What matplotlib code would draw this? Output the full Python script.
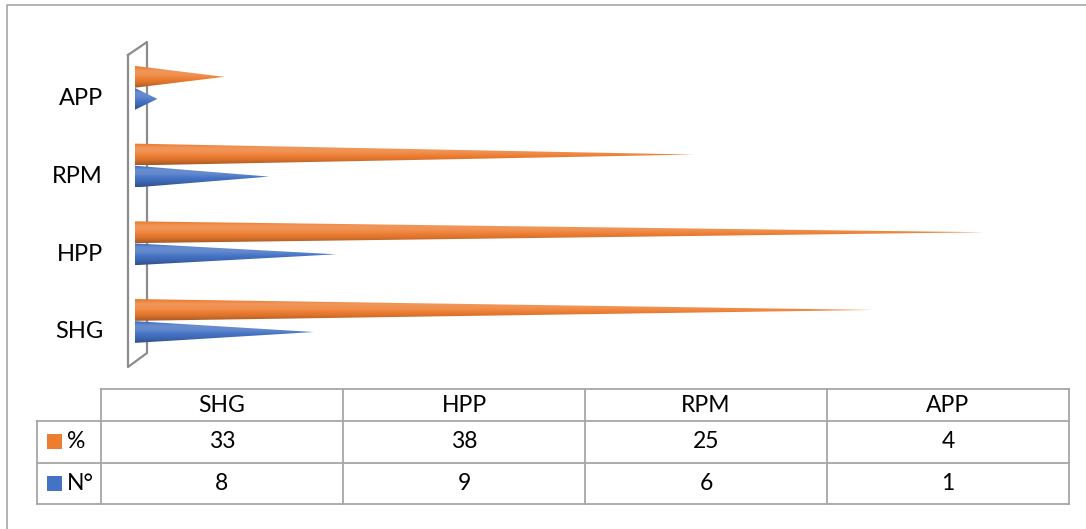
import numpy as np
import matplotlib.pyplot as plt
import matplotlib.colors as mcolors
import matplotlib.transforms as mtransforms
from matplotlib.patches import Polygon, Rectangle
from matplotlib.lines import Line2D

categorias = ["SHG", "HPP", "RPM", "APP"]
series = ["%", "N°"]
porcentaje = [33, 38, 25, 4]
numero = [8, 9, 6, 1]
colores = ["#ED7D31", "#4472C4"]

plt.rcParams['font.family'] = ['Lato', 'DejaVu Sans']

W, H = 1086, 529
fig = plt.figure(figsize=(W / 100, H / 100), dpi=100)
gris = "#a6a6a6"


def caja(x0, y0, x1, y1):
    # rectangulo en pixeles (origen arriba a la izquierda) -> coordenadas de figura
    return [x0 / W, 1 - y1 / H, (x1 - x0) / W, (y1 - y0) / H]


def degradado(color):
    c = np.array(mcolors.to_rgb(color))
    t = np.linspace(0, 1, 80)
    f = np.interp(t, [0, 0.25, 0.6, 0.8, 1], [0.70, 0.92, 1.10, 1.12, 0.96])
    filas = []
    for v in f:
        if v < 1:
            filas.append(c * v)
        else:
            filas.append(c + (1 - c) * (v - 1) * 1.6)
    g = np.clip(np.array(filas), 0, 1)
    return np.repeat(g[:, None, :], 4, axis=1)


def cono(ax, y0, valor, alto, color, e=0.32):
    th = np.linspace(np.pi / 2, 3 * np.pi / 2, 30)
    pts = list(zip(e / 2 * np.cos(th), y0 + alto / 2 * np.sin(th)))
    pts.append((valor, y0))
    forma = Polygon(pts, closed=True, facecolor="none", edgecolor="none")
    ax.add_patch(forma)
    im = ax.imshow(degradado(color), extent=(-e / 2, valor, y0 - alto / 2, y0 + alto / 2),
                   origin="lower", aspect="auto", interpolation="bilinear", zorder=3)
    im.set_clip_path(forma)


# marco exterior
fig.add_artist(Line2D([7 / W, 7 / W, 1.0], [0.0, 1 - 5 / H, 1 - 5 / H],
                      transform=fig.transFigure, color=gris, lw=1.2, zorder=-2))

# pared del grafico 3D
wx = np.array([128, 128, 147, 147, 128]) / W
wy = 1 - np.array([55, 367, 353, 42, 55]) / H
fig.add_artist(Line2D(wx, wy, transform=fig.transFigure, color="#8c8c8c", lw=1.6, zorder=-1))

ax = fig.add_axes(caja(135, 42, 1069, 368))
ax.patch.set_visible(False)
y = np.arange(len(categorias))
alto = 0.28
desp = 0.142
for i in range(len(categorias)):
    cono(ax, y[i] + desp, porcentaje[i], alto, colores[0])
    cono(ax, y[i] - desp, numero[i], alto, colores[1])
ax.set_xlim(0, 934 / 22.35)
ax.set_ylim(-0.605, 3.59)
ax.set_yticks(y)
ax.set_yticklabels(categorias, fontsize=17)
ax.tick_params(axis="y", length=0, pad=23)
bajar = mtransforms.ScaledTranslation(0, -9 / 100, fig.dpi_scale_trans)
for lab in ax.get_yticklabels():
    lab.set_transform(lab.get_transform() + bajar)
ax.set_xticks([])
for s in ax.spines.values():
    s.set_visible(False)

# tabla de datos
tab = fig.add_axes(caja(37, 389, 1069, 504))
tab.set_xlim(37, 1069)
tab.set_ylim(504, 389)
tab.axis("off")
bordes_x = np.linspace(101, 1069, len(categorias) + 1)
bordes_y = [389, 421, 463, 504]
kw = dict(color=gris, lw=1.3, clip_on=False)
tab.plot([101, 1069], [389, 389], **kw)
for yy in bordes_y[1:]:
    tab.plot([37, 1069], [yy, yy], **kw)
tab.plot([37, 37], [421, 504], **kw)
for xx in bordes_x:
    tab.plot([xx, xx], [389, 504], **kw)

centros = (bordes_x[:-1] + bordes_x[1:]) / 2
for j, cat in enumerate(categorias):
    tab.text(centros[j], (bordes_y[0] + bordes_y[1]) / 2 + 1, cat, ha="center", va="center", fontsize=16.5)
filas = [porcentaje, numero]
for k in range(len(series)):
    yc = (bordes_y[k + 1] + bordes_y[k + 2]) / 2
    tab.add_patch(Rectangle((47, yc - 7.5), 15, 15, facecolor=colores[k], edgecolor="none"))
    tab.text(67, yc, series[k], ha="left", va="center", fontsize=16.5)
    for j in range(len(categorias)):
        tab.text(centros[j], yc, str(filas[k][j]), ha="center", va="center", fontsize=16.5)

fig.savefig("out.png", dpi=100)
